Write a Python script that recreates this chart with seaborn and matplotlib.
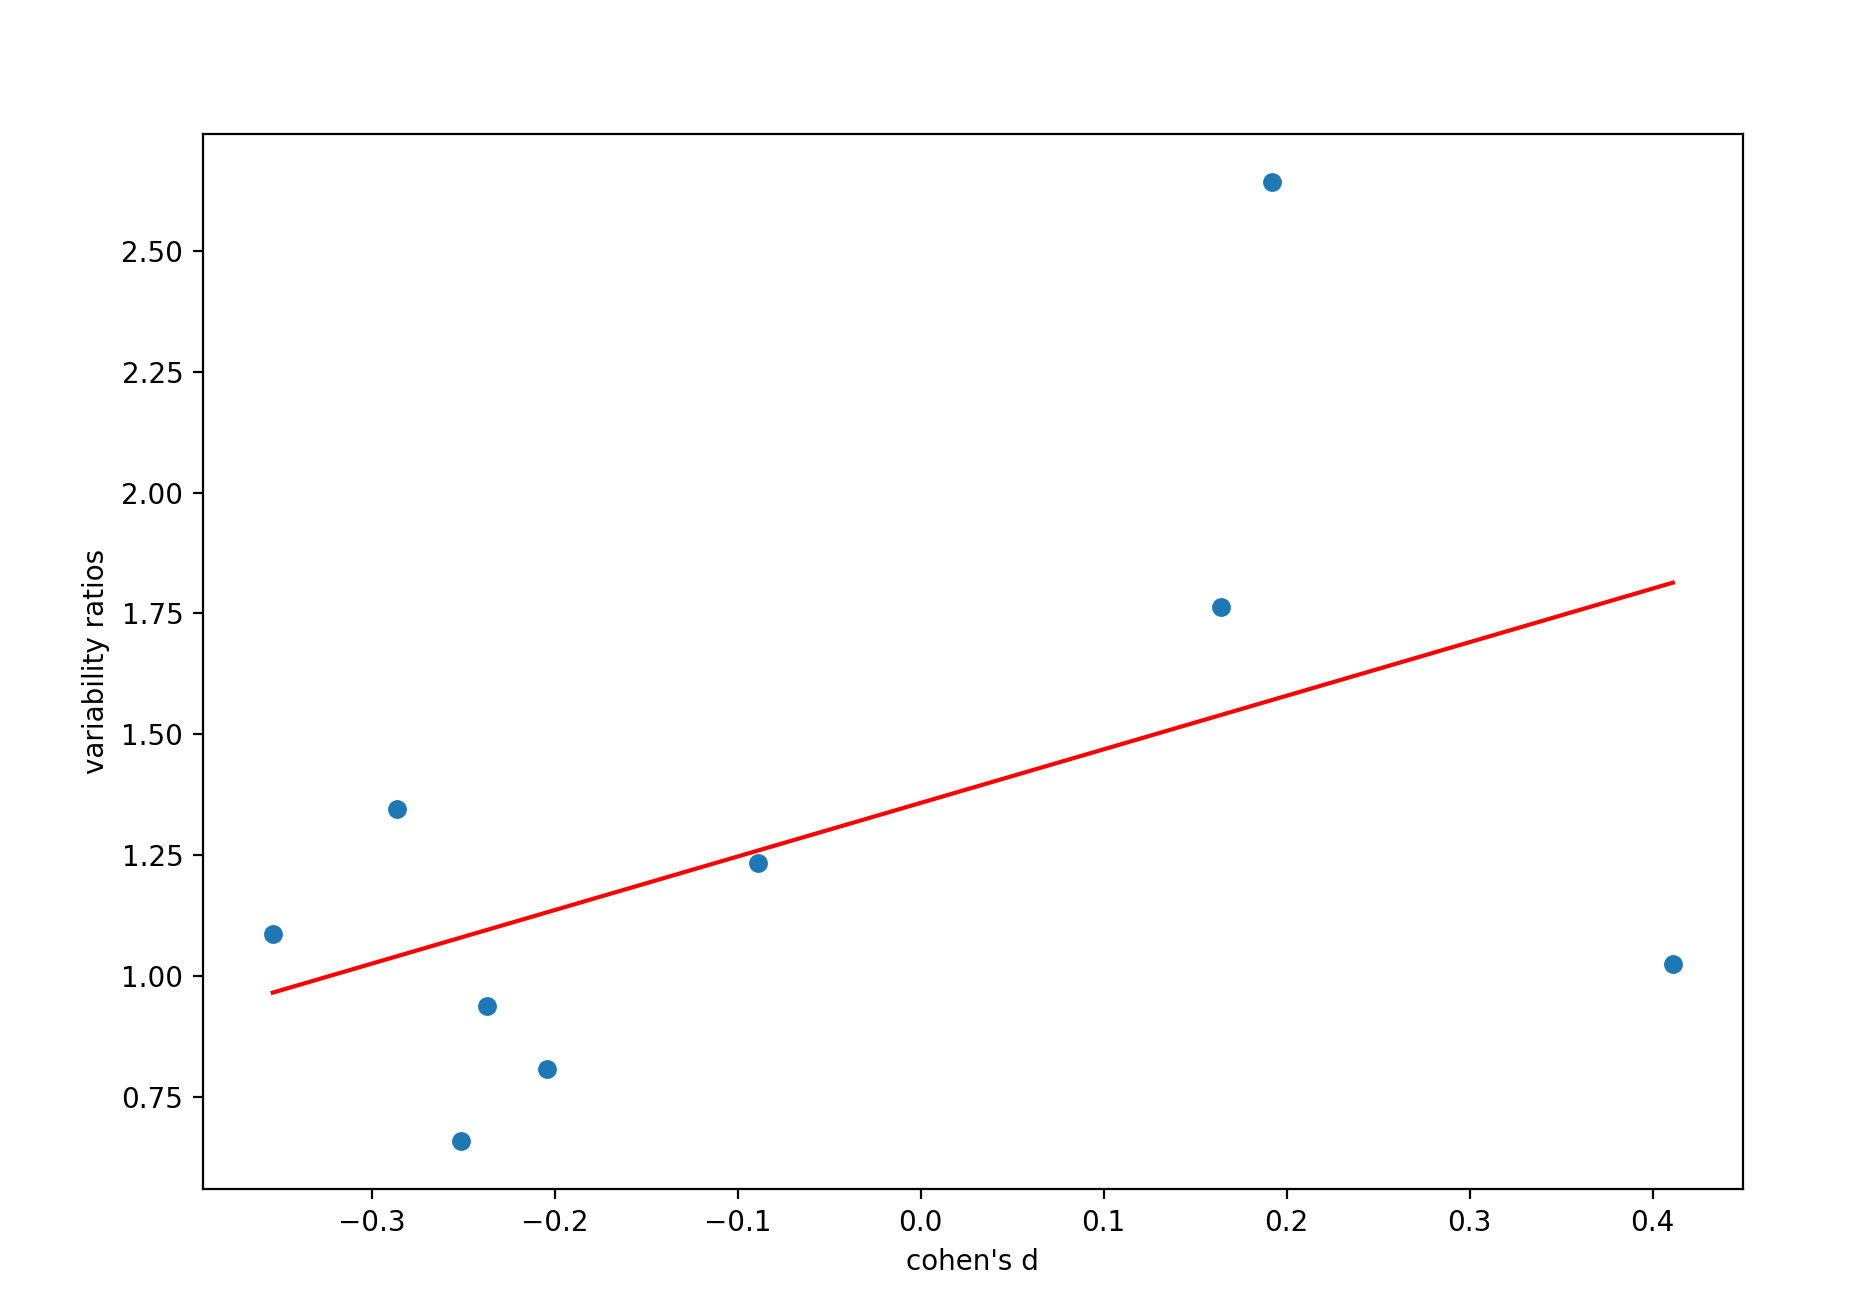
# scatter of variability ratios vs cohen's d, with a least-squares line
import numpy as np
import pandas as pd
import matplotlib
matplotlib.use("Agg")
import matplotlib.pyplot as plt
import seaborn as sns

# values
cohens_d = [-0.354, -0.286, -0.237, -0.251, -0.204, -0.089, 0.164, 0.192, 0.411]
variability_ratios = [1.086, 1.346, 0.937, 0.658, 0.807, 1.234, 1.763, 2.643, 1.024]

df = pd.DataFrame({"cohens_d": cohens_d, "ratio": variability_ratios})

# ordinary least squares fit, drawn across the range of the points
slope, intercept = np.polyfit(df["cohens_d"], df["ratio"], 1)
fit = pd.DataFrame({"cohens_d": df["cohens_d"]})
fit["ratio"] = slope * fit["cohens_d"] + intercept

fig, ax = plt.subplots(figsize=(9.3, 6.56), dpi=200)
fig.subplots_adjust(left=0.109, right=0.937, bottom=0.0935, top=0.898)

sns.scatterplot(data=df, x="cohens_d", y="ratio", color="#1f77b4",
                s=46, linewidth=0, ax=ax)
sns.lineplot(data=fit, x="cohens_d", y="ratio", color="red",
             linewidth=1.5, ax=ax)

ax.set_xlabel("cohen's d")
ax.set_ylabel("variability ratios")

plt.savefig("out.png", dpi=200)
